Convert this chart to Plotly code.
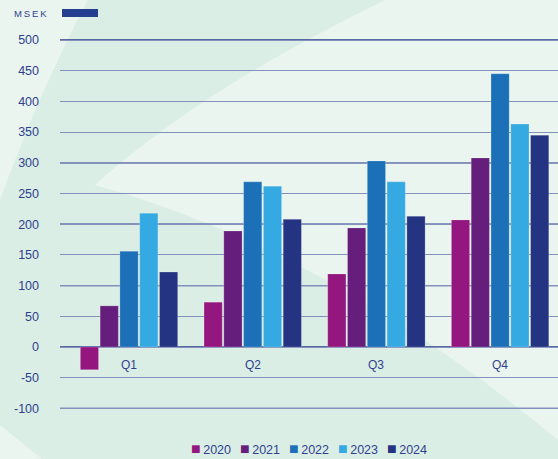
import plotly.graph_objects as go

quarters = ["Q1", "Q2", "Q3", "Q4"]
years = ["2020", "2021", "2022", "2023", "2024"]
values = {
    "2020": [-37, 73, 119, 207],
    "2021": [67, 189, 194, 308],
    "2022": [156, 269, 303, 445],
    "2023": [218, 262, 269, 363],
    "2024": [122, 208, 213, 345],
}
colors = {
    "2020": "#93177e",
    "2021": "#651e7c",
    "2022": "#1b70b8",
    "2023": "#35a9e1",
    "2024": "#243382",
}
y_ticks = [-100, -50, 0, 50, 100, 150, 200, 250, 300, 350, 400, 450, 500]
y_tick_text = [str(v) for v in y_ticks]
dark_lines = [-100, 0, 100, 200, 300, 500]
legend_x = [189, 238, 287, 336, 385]

W, H = 558, 459
L, R, T, B = 60, 558, 30, 420
def px(x):
    return (x - L) / (R - L)
def py(y):
    return (B - y) / (B - T)

fig = go.Figure()
for yr in years:
    fig.add_trace(go.Bar(
        x=quarters, y=values[yr], name=yr,
        marker=dict(color=colors[yr], line=dict(color="rgba(255,255,255,0.35)", width=0.6)),
    ))

text_col = "#2f3f8f"

shapes = []
light = "#eaf5ef"
shapes.append(dict(type="path", xref="paper", yref="paper", layer="below",
    path=f"M {px(0)} {py(0)} L {px(88)} {py(0)} Q {px(40)} {py(90)} {px(0)} {py(200)} Z",
    fillcolor=light, line=dict(width=0)))
shapes.append(dict(type="path", xref="paper", yref="paper", layer="below",
    path=(f"M {px(385)} {py(0)} Q {px(200)} {py(90)} {px(95)} {py(185)} "
          f"Q {px(330)} {py(250)} {px(558)} {py(440)} L {px(558)} {py(0)} Z"),
    fillcolor=light, line=dict(width=0)))
shapes.append(dict(type="path", xref="paper", yref="paper", layer="below",
    path=f"M {px(0)} {py(425)} L {px(42)} {py(459)} L {px(0)} {py(459)} Z",
    fillcolor=light, line=dict(width=0)))

for v in dark_lines:
    shapes.append(dict(type="line", xref="paper", yref="y", layer="below",
                       x0=0, x1=1, y0=v, y1=v, line=dict(color="#2b3a8e", width=1.3)))

shapes.append(dict(type="rect", xref="paper", yref="paper",
                   x0=px(62), x1=px(98), y0=py(17), y1=py(9),
                   fillcolor="#243f8f", line=dict(width=0)))

annotations = [dict(x=px(12), y=py(14), xref="paper", yref="paper",
                    text="M\u2009S\u2009E\u2009K",
                    showarrow=False, xanchor="left", yanchor="middle",
                    font=dict(size=9.5, color=text_col))]
for q in quarters:
    annotations.append(dict(x=q, y=0, xref="x", yref="y", text=q, showarrow=False,
                            yanchor="top", yshift=-9, font=dict(size=12, color=text_col)))
for yr, lx in zip(years, legend_x):
    annotations.append(dict(x=px(lx), y=py(448), xref="paper", yref="paper",
                            text=f"<span style='color:{colors[yr]};font-size:16px'>■</span>\u2009{yr}",
                            showarrow=False, xanchor="left", yanchor="middle",
                            font=dict(size=12.5, color=text_col)))

fig.update_layout(
    width=W, height=H,
    margin=dict(l=L, r=W - R, t=T, b=H - B),
    paper_bgcolor="#dbeee5",
    plot_bgcolor="rgba(0,0,0,0)",
    font=dict(family="Liberation Sans, Arial, sans-serif", color=text_col, size=12),
    barmode="group", bargap=0.2, bargroupgap=0.08,
    showlegend=False,
    xaxis=dict(range=[-0.558, 3.468], showticklabels=False, showgrid=False,
               zeroline=False, showline=False),
    yaxis=dict(range=[-118.9, 516.3], tickvals=y_ticks, ticktext=y_tick_text, showgrid=True,
               gridcolor="#8391ba", gridwidth=1.3, zeroline=False, showline=False,
               ticks="", ticklabelstandoff=20, tickfont=dict(size=12.5, color=text_col)),
    shapes=shapes, annotations=annotations,
)

fig.write_html("out.html", config={"displayModeBar": False},
               post_script="document.body.style.margin='0';document.body.style.padding='0';")
